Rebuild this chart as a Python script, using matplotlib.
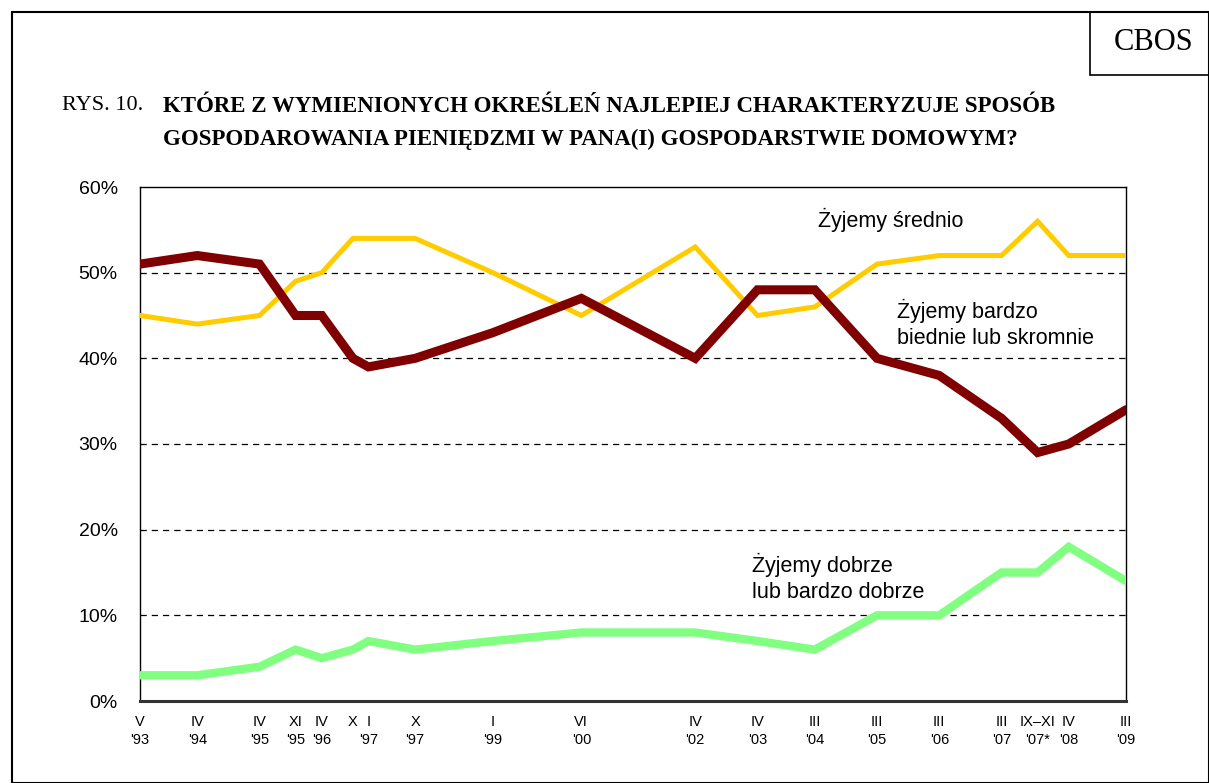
import matplotlib.pyplot as plt
from matplotlib.patches import Rectangle
from matplotlib.ticker import FuncFormatter

# terminy badan (miesiac rzymski, rok)
miesiace = ['V', 'IV', 'IV', 'XI', 'IV', 'X', 'I', 'X', 'I', 'VI', 'IV', 'IV', 'III', 'III', 'III', 'III', 'IX–XI', 'IV', 'III']
lata = ["'93", "'94", "'95", "'95", "'96", "", "'97", "'97", "'99", "'00", "'02", "'03", "'04", "'05", "'06", "'07", "'07*", "'08", "'09"]
czas = [1993.33, 1994.25, 1995.25, 1995.83, 1996.25, 1996.75, 1997.0, 1997.75, 1999.0, 2000.42,
        2002.25, 2003.25, 2004.17, 2005.17, 2006.17, 2007.17, 2007.75, 2008.25, 2009.17]

srednio = [45, 44, 45, 49, 50, 54, 54, 54, 50, 45, 53, 45, 46, 51, 52, 52, 56, 52, 52]
biednie = [51, 52, 51, 45, 45, 40, 39, 40, 43, 47, 40, 48, 48, 40, 38, 33, 29, 30, 34]
dobrze = [3, 3, 4, 6, 5, 6, 7, 6, 7, 8, 8, 7, 6, 10, 10, 15, 15, 18, 14]

plt.rcParams['font.family'] = ['Liberation Sans', 'DejaVu Sans']

fig = plt.figure(figsize=(12.09, 7.83), dpi=100)

# ramka dookola i logo
fig.patches.append(Rectangle((12 / 1209, 0), 1 - 12 / 1209, 1 - 12 / 783, transform=fig.transFigure,
                             fill=False, edgecolor='black', linewidth=1.5))
fig.patches.append(Rectangle((1090 / 1209, 1 - 75 / 783), 1 - 1090 / 1209, 63 / 783, transform=fig.transFigure,
                             fill=False, edgecolor='black', linewidth=1.2))
fig.text(1154 / 1209, 1 - 43 / 783, 'CBOS', family='Liberation Serif', fontsize=22, ha='center', va='center')

fig.text(62 / 1209, 1 - 106 / 783, 'RYS. 10.', family='Liberation Serif', fontsize=16, va='center')
fig.text(163 / 1209, 1 - 106 / 783, 'KTÓRE Z WYMIENIONYCH OKREŚLEŃ NAJLEPIEJ CHARAKTERYZUJE SPOSÓB',
         family='Liberation Serif', fontsize=16.5, weight='bold', va='center')
fig.text(163 / 1209, 1 - 139 / 783, 'GOSPODAROWANIA PIENIĘDZMI W PANA(I) GOSPODARSTWIE DOMOWYM?',
         family='Liberation Serif', fontsize=16.5, weight='bold', va='center')

ax = fig.add_axes([140 / 1209, 1 - 701 / 783, 986 / 1209, 514 / 783])

ax.plot(czas, srednio, color='#FFCC00', linewidth=3.6, solid_capstyle='round', solid_joinstyle='miter', zorder=3)
ax.plot(czas, dobrze, color='#80FF80', linewidth=6, solid_capstyle='round', solid_joinstyle='miter', zorder=3)
ax.plot(czas, biednie, color='#800000', linewidth=6.5, solid_capstyle='round', solid_joinstyle='miter', zorder=4)

ax.set_xlim(czas[0], czas[-1])
ax.set_ylim(0, 60)
ax.set_yticks(range(0, 61, 10))
ax.yaxis.set_major_formatter(FuncFormatter(lambda v, p: '%d%%' % v))
for y in range(10, 60, 10):
    ax.axhline(y, color='black', linestyle=(0, (5, 4)), linewidth=0.9, zorder=1)

ax.set_xticks(czas)
ax.set_xticklabels([m + '\n' + r if r else m for m, r in zip(miesiace, lata)],
                   fontsize=10.5, linespacing=1.35)
ax.tick_params(axis='x', length=0, pad=10)
ax.tick_params(axis='y', length=0, pad=16, labelsize=14)

for s in ['top', 'right', 'left']:
    ax.spines[s].set_linewidth(1.0)
ax.spines['bottom'].set_linewidth(2.2)
ax.spines['bottom'].set_color('#333333')

ax.text(2004.22, 56.1, 'Żyjemy średnio', fontsize=15.5, va='center')
ax.text(2005.49, 44.0, 'Żyjemy bardzo\nbiednie lub skromnie', fontsize=15.5, va='center', linespacing=1.3)
ax.text(2003.16, 14.4, 'Żyjemy dobrze\nlub bardzo dobrze', fontsize=15.5, va='center', linespacing=1.3)

fig.savefig('out.png', dpi=100)
